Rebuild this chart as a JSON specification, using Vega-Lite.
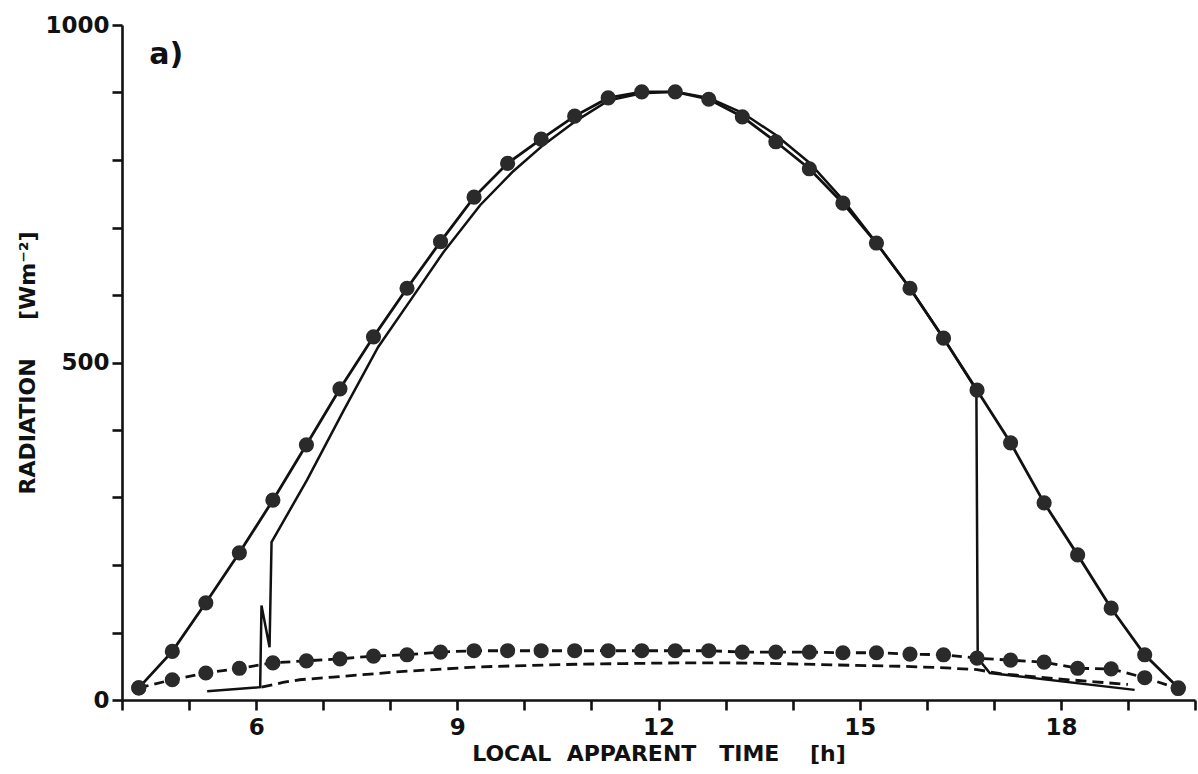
{
  "$schema": "https://vega.github.io/schema/vega-lite/v6.json",
  "width": 1073,
  "height": 675,
  "autosize": {"type": "none"},
  "padding": {"left": 122, "top": 25, "right": 3, "bottom": 74},
  "background": "white",
  "config": {
    "view": {"stroke": null},
    "axis": {
      "grid": false,
      "domainColor": "#111",
      "domainWidth": 2.6,
      "tickColor": "#111",
      "tickWidth": 2.6,
      "tickSize": 10,
      "labelFont": "DejaVu Sans",
      "labelFontSize": 23,
      "labelFontWeight": "bold",
      "labelColor": "#111",
      "labelFlush": false,
      "labelOverlap": false,
      "titleFont": "DejaVu Sans",
      "titleFontSize": 22,
      "titleFontWeight": "bold",
      "titleColor": "#111"
    }
  },
  "datasets": {
    "upper": [
      {"t": 4.25, "v": 18}, {"t": 4.75, "v": 72}, {"t": 5.25, "v": 144}, {"t": 5.75, "v": 218},
      {"t": 6.25, "v": 296}, {"t": 6.75, "v": 378}, {"t": 7.25, "v": 461}, {"t": 7.75, "v": 538},
      {"t": 8.25, "v": 610}, {"t": 8.75, "v": 679}, {"t": 9.25, "v": 745}, {"t": 9.75, "v": 795},
      {"t": 10.25, "v": 831}, {"t": 10.75, "v": 865}, {"t": 11.25, "v": 892}, {"t": 11.75, "v": 901},
      {"t": 12.25, "v": 901}, {"t": 12.75, "v": 890}, {"t": 13.25, "v": 864}, {"t": 13.75, "v": 827},
      {"t": 14.25, "v": 787}, {"t": 14.75, "v": 736}, {"t": 15.25, "v": 677}, {"t": 15.75, "v": 610},
      {"t": 16.25, "v": 536}, {"t": 16.75, "v": 459}, {"t": 17.25, "v": 381}, {"t": 17.75, "v": 292},
      {"t": 18.25, "v": 215}, {"t": 18.75, "v": 136}, {"t": 19.25, "v": 67}, {"t": 19.75, "v": 18}
    ],
    "lower": [
      {"t": 4.25, "v": 18}, {"t": 4.75, "v": 30}, {"t": 5.25, "v": 40}, {"t": 5.75, "v": 47},
      {"t": 6.25, "v": 55}, {"t": 6.75, "v": 58}, {"t": 7.25, "v": 61}, {"t": 7.75, "v": 65},
      {"t": 8.25, "v": 67}, {"t": 8.75, "v": 71}, {"t": 9.25, "v": 73}, {"t": 9.75, "v": 73},
      {"t": 10.25, "v": 73}, {"t": 10.75, "v": 73}, {"t": 11.25, "v": 73}, {"t": 11.75, "v": 73},
      {"t": 12.25, "v": 73}, {"t": 12.75, "v": 73}, {"t": 13.25, "v": 71}, {"t": 13.75, "v": 71},
      {"t": 14.25, "v": 71}, {"t": 14.75, "v": 70}, {"t": 15.25, "v": 70}, {"t": 15.75, "v": 68},
      {"t": 16.25, "v": 67}, {"t": 16.75, "v": 62}, {"t": 17.25, "v": 59}, {"t": 17.75, "v": 56},
      {"t": 18.25, "v": 47}, {"t": 18.75, "v": 46}, {"t": 19.25, "v": 33}, {"t": 19.75, "v": 17}
    ],
    "inner": [
      {"t": 5.27, "v": 13}, {"t": 6.06, "v": 19}, {"t": 6.08, "v": 140}, {"t": 6.2, "v": 78},
      {"t": 6.23, "v": 234}, {"t": 6.76, "v": 326}, {"t": 7.3, "v": 428}, {"t": 7.82, "v": 523},
      {"t": 8.3, "v": 592}, {"t": 8.79, "v": 663}, {"t": 9.34, "v": 733}, {"t": 9.83, "v": 783},
      {"t": 10.28, "v": 822}, {"t": 10.77, "v": 858}, {"t": 11.25, "v": 888}, {"t": 11.75, "v": 899},
      {"t": 12.25, "v": 901}, {"t": 12.75, "v": 892}, {"t": 13.25, "v": 870}, {"t": 13.75, "v": 837},
      {"t": 14.25, "v": 796}, {"t": 14.75, "v": 741}, {"t": 15.25, "v": 677}, {"t": 15.75, "v": 610},
      {"t": 16.25, "v": 536}, {"t": 16.74, "v": 459}, {"t": 16.76, "v": 62}, {"t": 16.94, "v": 40},
      {"t": 19.1, "v": 15}
    ],
    "diffuse": [
      {"t": 6.08, "v": 19}, {"t": 6.4, "v": 26}, {"t": 6.65, "v": 30}, {"t": 7.15, "v": 34},
      {"t": 7.65, "v": 38}, {"t": 8.15, "v": 42}, {"t": 8.8, "v": 46}, {"t": 9.3, "v": 49},
      {"t": 10.0, "v": 51}, {"t": 10.8, "v": 53}, {"t": 11.5, "v": 54}, {"t": 12.3, "v": 55},
      {"t": 13.0, "v": 55}, {"t": 13.8, "v": 54}, {"t": 14.6, "v": 52}, {"t": 15.6, "v": 50},
      {"t": 16.2, "v": 48}, {"t": 16.75, "v": 45}, {"t": 17.1, "v": 39}, {"t": 18.0, "v": 31},
      {"t": 18.5, "v": 27}, {"t": 19.0, "v": 23}
    ],
    "panel": [
      {"t": 4.66, "v": 956, "label": "a)"}
    ]
  },
  "encoding": {
    "x": {
      "field": "t",
      "type": "quantitative",
      "scale": {"domain": [4, 20], "nice": false, "zero": false},
      "axis": {
        "title": "LOCAL\u00a0\u00a0APPARENT\u00a0\u00a0\u00a0TIME\u00a0\u00a0\u00a0\u00a0[h]",
        "values": [4, 5, 6, 7, 8, 9, 10, 11, 12, 13, 14, 15, 16, 17, 18, 19, 20],
        "format": "d",
        "labelExpr": "(datum.value % 3 === 0 && datum.value >= 6 && datum.value <= 18) ? datum.label : ''",
        "labelPadding": 6,
        "titlePadding": 4
      }
    },
    "y": {
      "field": "v",
      "type": "quantitative",
      "scale": {"domain": [0, 1000], "nice": false},
      "axis": {
        "title": "RADIATION\u00a0\u00a0\u00a0\u00a0\u00a0[Wm\u207b\u00b2]",
        "values": [0, 100, 200, 300, 400, 500, 600, 700, 800, 900, 1000],
        "format": "d",
        "labelExpr": "datum.value % 500 === 0 ? datum.label : ''",
        "labelPadding": 3,
        "titlePadding": 5
      }
    }
  },
  "layer": [
    {
      "data": {"name": "upper"},
      "mark": {"type": "line", "color": "#111", "strokeWidth": 2.8}
    },
    {
      "data": {"name": "lower"},
      "mark": {"type": "line", "color": "#111", "strokeWidth": 2.8, "strokeDash": [10, 6]}
    },
    {
      "data": {"name": "inner"},
      "mark": {"type": "line", "color": "#111", "strokeWidth": 2.5}
    },
    {
      "data": {"name": "diffuse"},
      "mark": {"type": "line", "color": "#111", "strokeWidth": 2.8, "strokeDash": [11, 6]}
    },
    {
      "data": {"name": "upper"},
      "mark": {"type": "point", "shape": "circle", "filled": true, "size": 230, "color": "#2a2a2a", "opacity": 1}
    },
    {
      "data": {"name": "lower"},
      "mark": {"type": "point", "shape": "circle", "filled": true, "size": 230, "color": "#2a2a2a", "opacity": 1}
    },
    {
      "data": {"name": "panel"},
      "mark": {"type": "text", "font": "DejaVu Sans", "fontSize": 30, "fontWeight": "bold", "color": "#111", "align": "center", "baseline": "middle"},
      "encoding": {"text": {"field": "label"}}
    }
  ]
}
